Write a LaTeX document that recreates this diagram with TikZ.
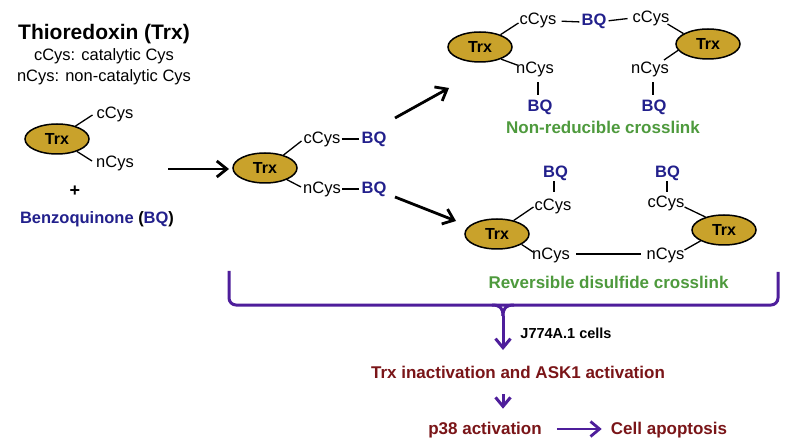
\documentclass[tikz,border=0pt]{standalone}
\usepackage{fontspec}
\setmainfont{Liberation Sans}
\usetikzlibrary{shapes.geometric,arrows.meta}
\definecolor{gold}{HTML}{C9A22B}
\definecolor{bqblue}{HTML}{22208C}
\definecolor{lgreen}{HTML}{4E9A3D}
\definecolor{dred}{HTML}{7A1518}
\definecolor{vpurple}{HTML}{4E1E9B}
\tikzset{
  trx/.style={ellipse, draw=black, line width=1.5pt, fill=gold, minimum width=64pt, minimum height=30pt, inner sep=0pt,
    font=\bfseries\fontsize{16}{18}\selectfont, text height=11.5pt, text depth=0pt},
  lbl/.style={inner sep=0pt, font=\fontsize{16.5}{18}\selectfont, text height=11.8pt, text depth=0pt},
  bqt/.style={inner sep=0pt, font=\bfseries\fontsize{16.5}{18}\selectfont, text height=11.8pt, text depth=0pt, text=bqblue},
  grn/.style={inner sep=0pt, font=\bfseries\fontsize{17}{19}\selectfont, text height=12.2pt, text depth=0pt, text=lgreen},
  red/.style={inner sep=0pt, font=\bfseries\fontsize{17}{19}\selectfont, text height=12.2pt, text depth=0pt, text=dred},
  bond/.style={line width=1.3pt, black},
  bigarrow/.style={line width=2.8pt, black, -{Straight Barb[length=10pt,width=16pt]}},
  parrow/.style={line width=3pt, vpurple, -{Straight Barb[length=9pt,width=15pt]}},
  brace/.style={line width=3pt, vpurple},
}
\begin{document}
\begin{tikzpicture}[x=1pt,y=-1pt]
\path[use as bounding box, fill=white] (0,0) rectangle (794,443);

% legend
\node[inner sep=0pt, font=\bfseries\fontsize{21}{24}\selectfont, text height=15pt, text depth=0pt] (title) at (104,32) {Thioredoxin (Trx)};
\node[lbl] (def1) at (104,55) {cCys: catalytic Cys};
\node[lbl] (def2) at (104,76) {nCys: non-catalytic Cys};

% starting Trx
\node[trx] (e1) at (57,139) {Trx};
\node[lbl] (c1) at (115,113) {cCys};
\node[lbl] (n1) at (115,162) {nCys};
\draw[bond] (e1.35) -- ([shift={(-4,2)}]c1.west);
\draw[bond] (e1.-32) -- ([shift={(-4,-1)}]n1.west);
\node[inner sep=0pt, font=\bfseries\fontsize{18}{20}\selectfont] (plus) at (75,191) {+};
\node[inner sep=0pt, font=\bfseries\fontsize{16.5}{18}\selectfont, text height=11.8pt, text depth=0pt] (benz) at (97,218)
  {\textcolor{bqblue}{Benzoquinone} (\textcolor{bqblue}{BQ})};

% first arrow
\coordinate (a1s) at (168,169);
\coordinate (a1e) at (229,169);
\draw[bigarrow] (a1s) -- (a1e);

% intermediate
\node[trx] (e2) at (265,168) {Trx};
\node[lbl] (c2) at (322,138) {cCys};
\node[lbl] (n2) at (322,188) {nCys};
\node[bqt] (bq2a) at (374,138) {BQ};
\node[bqt] (bq2b) at (374,188) {BQ};
\draw[bond] (e2.35) -- ([shift={(-2,3)}]c2.west);
\draw[bond] (e2.-28) -- ([shift={(-2,-1)}]n2.west);
\draw[bond, shorten <=1pt, shorten >=2pt] ([yshift=-1pt]c2.east) -- ([yshift=-1pt]bq2a.west);
\draw[bond, shorten <=1pt, shorten >=2pt] ([yshift=-1pt]n2.east) -- ([yshift=-1pt]bq2b.west);

% branching arrows
\coordinate (u1) at (395,118);
\coordinate (u2) at (449,88);
\coordinate (d1) at (395,197);
\coordinate (d2) at (456,221);
\draw[bigarrow] (u1) -- (u2);
\draw[bigarrow] (d1) -- (d2);

% non-reducible crosslink
\node[trx] (e3) at (480,47) {Trx};
\node[trx] (e4) at (708,44) {Trx};
\node[lbl] (c3) at (538,19) {cCys};
\node[bqt] (bq3) at (594,20) {BQ};
\node[lbl] (c4) at (651,17) {cCys};
\node[lbl] (n3) at (535,68) {nCys};
\node[lbl] (n4) at (650,68) {nCys};
\node[bqt] (bq4) at (540,106) {BQ};
\node[bqt] (bq5) at (654,106) {BQ};
\draw[bond] (e3.31) -- ([shift={(-1,4)}]c3.west);
\draw[bond, shorten <=5pt, shorten >=2pt] ([yshift=-2pt]c3.east) -- ([yshift=-2pt]bq3.west);
\draw[bond, shorten <=2pt, shorten >=5pt] ([yshift=-1pt]bq3.east) -- ([yshift=-1pt]c4.west);
\draw[bond] ([shift={(-2,7)}]c4.east) -- (e4.157);
\draw[bond] (e3.-30) -- ([shift={(1,-3)}]n3.west);
\draw[bond] ([shift={(-5,-8)}]n4.east) -- (e4.192);
\draw[bond] ([shift={(3,8)}]n3.south) -- ([shift={(-2,-5)}]bq4.north);
\draw[bond] ([shift={(3,8)}]n4.south) -- ([shift={(-1,-5)}]bq5.north);
\node[grn] (g1) at (603,127) {Non-reducible crosslink};

% reversible disulfide crosslink
\node[trx] (e5) at (497,234) {Trx};
\node[trx] (e6) at (724,230) {Trx};
\node[bqt] (bq6) at (555.5,172) {BQ};
\node[bqt] (bq7) at (667.5,172) {BQ};
\node[lbl] (c5) at (553,205) {cCys};
\node[lbl] (c6) at (666,202) {cCys};
\node[lbl] (n5) at (551,254) {nCys};
\node[lbl] (n6) at (665.5,254) {nCys};
\draw[bond] ([shift={(-1.5,3)}]bq6.south) -- ([shift={(1,-7)}]c5.north);
\draw[bond] ([shift={(-0.5,3)}]bq7.south) -- ([shift={(1,-4)}]c6.north);
\draw[bond] (e5.39) -- ([shift={(-1,2)}]c5.west);
\draw[bond] (e5.-23) -- ([shift={(1,-2)}]n5.west);
\draw[bond, shorten <=6pt, shorten >=6pt] (n5.east) -- (n6.west);
\draw[bond] ([shift={(0,-4)}]n6.east) -- (e6.205);
\draw[bond] ([shift={(0,5)}]c6.east) -- (e6.145);
\node[grn] (g2) at (608.5,282) {Reversible disulfide crosslink};

% purple brace
\coordinate (bl) at (229,271);
\coordinate (br) at (778,272);
\coordinate (bt) at (503,316);
\draw[brace, rounded corners=7pt] (bl) -- (229,305) -- (778,305) -- (br);
\draw[brace] (492,305) .. controls (500,305) and (503,308) .. (bt);
\draw[brace] (514,305) .. controls (506,305) and (503,308) .. (bt);
\coordinate (bh) at (503,350);
\draw[parrow] (bt) -- (bh);
\node[inner sep=0pt, font=\bfseries\fontsize{14.5}{16}\selectfont, text height=10.4pt, text depth=0pt] (cells) at (566,333) {J774A.1 cells};

% downstream
\node[red] (act) at (518,372) {Trx inactivation and ASK1 activation};
\node[red] (p38) at (485,428) {p38 activation};
\node[red] (apo) at (669,428) {Cell apoptosis};
\draw[parrow] ([shift={(-15,16)}]act.south) -- ([shift={(-15,-13)}]act.south |- p38.north);
\draw[parrow, line width=2.8pt, shorten <=15pt, shorten >=9pt] ([yshift=-1pt]p38.east) -- ([yshift=-1pt]apo.west);
\end{tikzpicture}
\end{document}
